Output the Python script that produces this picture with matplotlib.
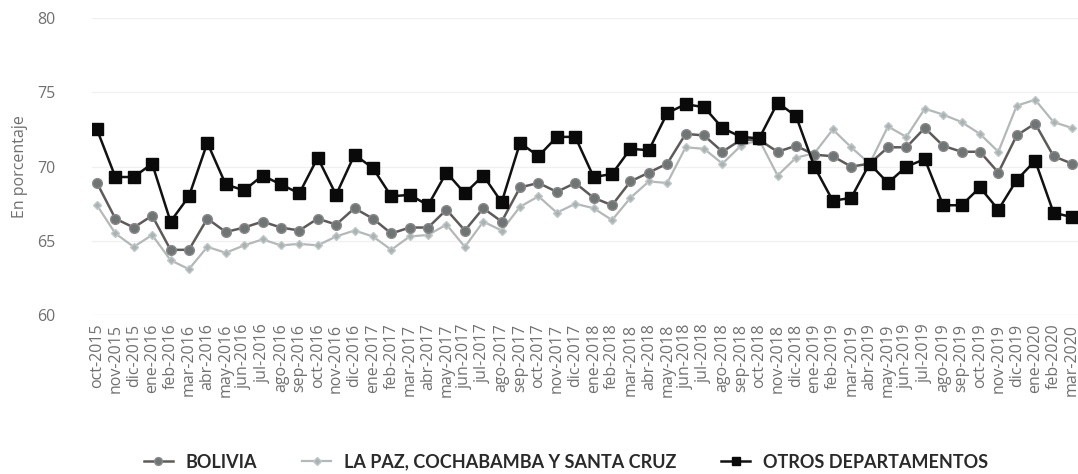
import numpy as np
import matplotlib.pyplot as plt

# Meses (oct-2015 a mar-2020)
meses = ['oct', 'nov', 'dic', 'ene', 'feb', 'mar', 'abr', 'may', 'jun', 'jul', 'ago', 'sep']
etiquetas = []
anio = 2015
for i in range(54):
    nombre = meses[i % 12]
    if nombre == 'ene':
        anio += 1
    etiquetas.append(f'{nombre}-{anio}')

bolivia = [68.9, 66.5, 65.9, 66.7, 64.4, 64.4, 66.5, 65.6, 65.9, 66.3, 65.9, 65.7,
           66.5, 66.1, 67.2, 66.5, 65.5, 65.9, 65.9, 67.1, 65.7, 67.2, 66.3, 68.6,
           68.9, 68.3, 68.9, 67.9, 67.4, 69.0, 69.6, 70.2, 72.2, 72.1, 71.0, 71.8,
           71.8, 71.0, 71.4, 70.8, 70.7, 70.0, 70.2, 71.3, 71.3, 72.6, 71.4, 71.0,
           71.0, 69.6, 72.1, 72.9, 70.7, 70.2]

lp_cb_sc = [67.4, 65.5, 64.6, 65.4, 63.7, 63.1, 64.6, 64.2, 64.7, 65.1, 64.7, 64.8,
            64.7, 65.3, 65.7, 65.3, 64.4, 65.3, 65.4, 66.1, 64.6, 66.3, 65.7, 67.3,
            68.0, 66.9, 67.5, 67.2, 66.4, 67.9, 69.0, 68.9, 71.3, 71.2, 70.2, 71.4,
            71.8, 69.4, 70.6, 70.9, 72.5, 71.3, 70.2, 72.7, 72.0, 73.9, 73.5, 73.0,
            72.2, 71.0, 74.1, 74.5, 73.0, 72.6]

otros = [72.5, 69.3, 69.3, 70.2, 66.3, 68.0, 71.6, 68.8, 68.4, 69.4, 68.8, 68.2,
         70.6, 68.1, 70.8, 69.9, 68.0, 68.1, 67.4, 69.6, 68.2, 69.4, 67.6, 71.6,
         70.7, 72.0, 72.0, 69.3, 69.5, 71.2, 71.1, 73.6, 74.2, 74.0, 72.6, 72.0,
         71.9, 74.3, 73.4, 70.0, 67.7, 67.9, 70.2, 68.9, 70.0, 70.5, 67.4, 67.4,
         68.6, 67.1, 69.1, 70.4, 66.9, 66.6]

x = np.arange(len(etiquetas))

fig = plt.figure(figsize=(10.78, 4.74), dpi=100)
ax = fig.add_axes([0.085, 0.335, 0.915, 0.627])

ax.plot(x, lp_cb_sc, color='#b4b8b8', lw=1.6, marker='D', ms=4.5,
        mfc='#a9b3b3', mec='#c2c8c8', label='LA PAZ, COCHABAMBA Y SANTA CRUZ', zorder=2)
ax.plot(x, bolivia, color='#5e5a5a', lw=1.8, marker='o', ms=7,
        mfc='#6f7474', mec='#8a8a8a', label='BOLIVIA', zorder=3)
ax.plot(x, otros, color='#111111', lw=1.8, marker='s', ms=8,
        mfc='#0a0a0a', mec='#0a0a0a', label='OTROS DEPARTAMENTOS', zorder=4)

ax.set_ylim(60, 80)
ax.set_yticks([60, 65, 70, 75, 80])
ax.set_xlim(-0.29, 53.33)
ax.set_xticks(x)
ax.set_xticklabels(etiquetas, rotation=90, fontsize=11.5, color='#707070',
                   family='Open Sans')
ax.tick_params(axis='both', length=0, pad=6)
ax.tick_params(axis='y', labelsize=11.5, labelcolor='#707070', pad=26)
for t in ax.get_yticklabels():
    t.set_family('Open Sans')
ax.grid(axis='y', color='#f0f0f0', lw=1)
ax.set_axisbelow(True)
for s in ax.spines.values():
    s.set_visible(False)

fig.text(0.019, 0.648, 'En porcentaje', rotation=90, fontsize=11.5, color='#707070',
         ha='center', va='center', family='Open Sans')

handles, labels = ax.get_legend_handles_labels()
order = [1, 0, 2]
fig.legend([handles[i] for i in order], [labels[i] for i in order],
           loc='center', bbox_to_anchor=(0.525, 0.025), ncol=3, frameon=False,
           columnspacing=2.5, handlelength=1.6, handletextpad=0.7, markerscale=0.8,
           labelcolor='#2a2a2a', prop={'family': 'Lato', 'size': 13, 'weight': 'bold'})

plt.savefig('out.png', dpi=100)
